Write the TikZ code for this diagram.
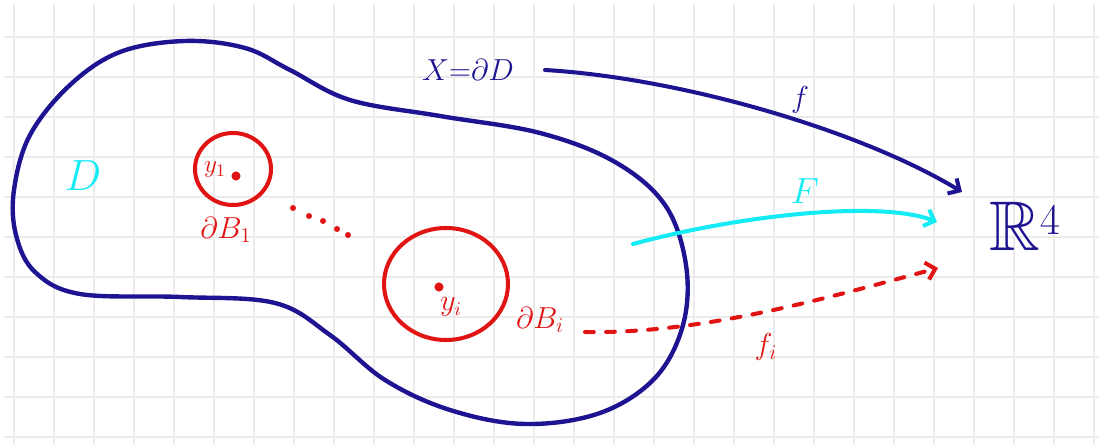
\documentclass[tikz,border=0pt]{standalone}
\usepackage{amssymb}
\usetikzlibrary{arrows.meta}
\definecolor{inkblue}{RGB}{30,20,145}
\definecolor{inkred}{RGB}{225,20,20}
\definecolor{inkcyan}{RGB}{20,235,245}
\begin{document}
\begin{tikzpicture}[x=0.02cm, y=-0.02cm,
    grid line/.style={gray!16, line width=1pt},
    outline/.style={inkblue, line width=2.5pt, line join=round},
    ball/.style={inkred, line width=2.3pt},
    map/.style={line width=2.3pt, line cap=round, -{Straight Barb[length=5pt,width=10pt]}},
    every node/.style={inner sep=1pt}
]
    \useasboundingbox (0,0) rectangle (1099,445);

    % squared paper
    \foreach \gx in {14,54,...,1094} \draw[grid line] (\gx,4) -- (\gx,445);
    \foreach \gy in {37,77,...,437} \draw[grid line] (4,\gy) -- (1099,\gy);

    % the domain D
    \draw[outline] plot[smooth cycle, tension=0.6] coordinates {
        (14,190) (30,135) (70,85) (120,52) (185,41) (245,48) (290,70)
        (350,100) (440,116) (540,133) (615,162) (665,205) (686,265)
        (683,325) (655,378) (600,413) (525,424) (450,410) (385,380)
        (330,335) (275,303) (180,297) (80,294) (35,272) (16,235)};

    % small balls
    \draw[ball] (233,169) ellipse [x radius=38, y radius=36];
    \fill[inkred] (236,176) circle (2.6pt);
    \draw[ball] (446,284) ellipse [x radius=62, y radius=56];
    \fill[inkred] (439,287) circle (2.6pt);
    \foreach \p in {(293,208),(309,216),(323,221),(337,229),(348,235)}
        \fill[inkred] \p circle (1.7pt);

    % labels
    \node[inkcyan, font=\fontsize{30}{32}\selectfont] (dom) at (83,176) {$D$};
    \node[inkblue, font=\fontsize{18}{20}\selectfont] (bd) at (468,70) {$X{=}\partial D$};
    \node[inkblue, font=\fontsize{40}{42}\selectfont] (rr) at (1025,226) {$\mathbb{R}^4$};
    \node[inkred, font=\fontsize{14}{16}\selectfont] (y1) at (215,170) {$y_1$};
    \node[inkred, font=\fontsize{18}{20}\selectfont] (db1) at (226,230) {$\partial B_1$};
    \node[inkred, font=\fontsize{16}{18}\selectfont] (yi) at (451,307) {$y_i$};
    \node[inkred, font=\fontsize{18}{20}\selectfont] (dbi) at (540,320) {$\partial B_i$};
    \node[inkblue, font=\fontsize{18}{20}\selectfont] (fl) at (800,100) {$f$};
    \node[inkcyan, font=\fontsize{20}{22}\selectfont] (Fl) at (805,191) {$F$};
    \node[inkred, font=\fontsize{18}{20}\selectfont] (fil) at (766,347) {$f_i$};

    % maps into R^4
    \coordinate (f0) at (545,70);
    \coordinate (f1) at (962,192);
    \coordinate (F0) at (633,244);
    \coordinate (F1) at (937,222);
    \coordinate (fi0) at (585,332);
    \coordinate (fi1) at (938,268);
    \draw[map, inkblue] (f0) .. controls (680,78) and (860,130) .. (f1);
    \draw[map, inkcyan] (F0) .. controls (740,215) and (880,200) .. (F1);
    \draw[map, inkred, dash pattern=on 5pt off 7pt] (fi0) .. controls (700,334) and (820,300) .. (fi1);
\end{tikzpicture}
\end{document}
